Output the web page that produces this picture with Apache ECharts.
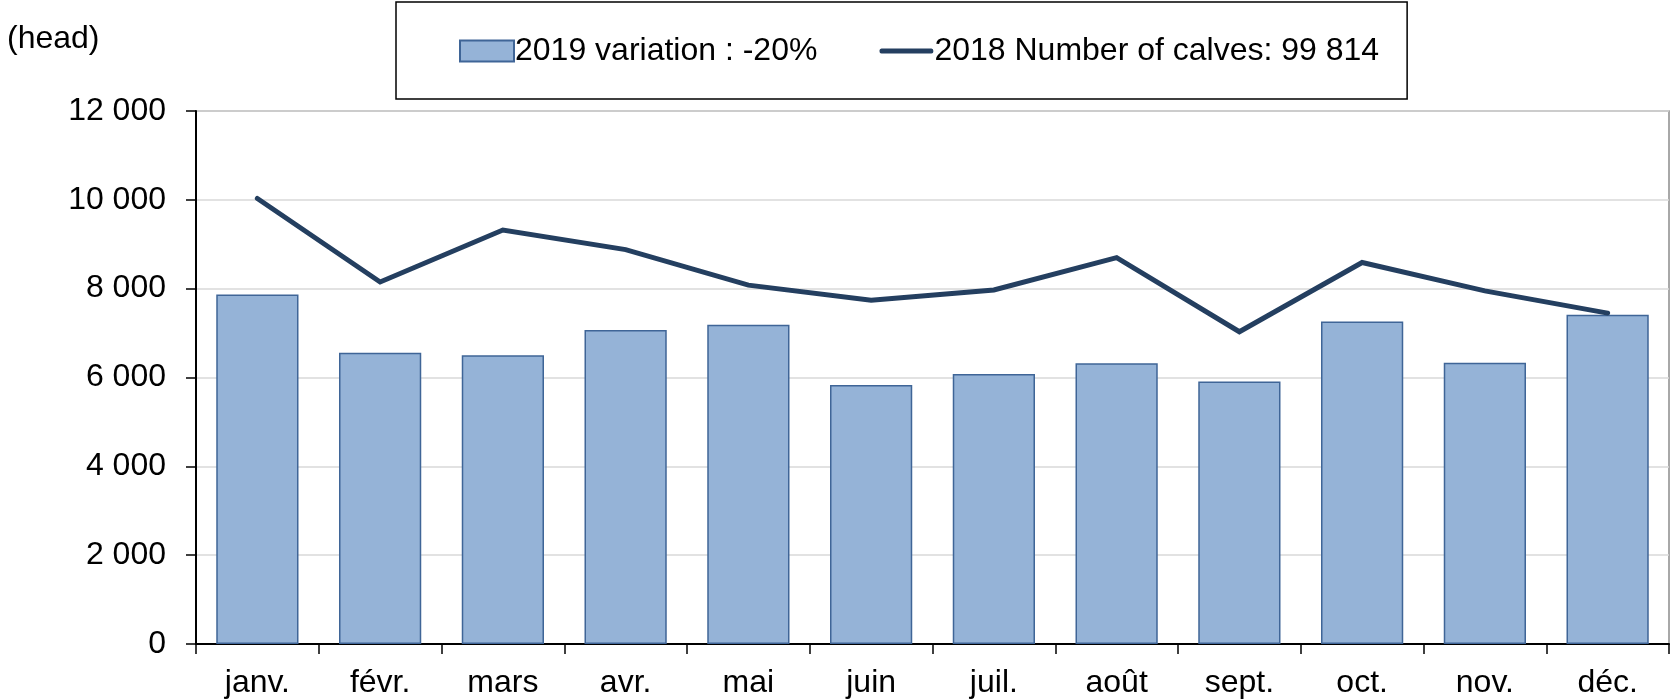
<!DOCTYPE html>
<html>
<head>
<meta charset="utf-8">
<script src="https://cdn.jsdelivr.net/npm/echarts@6/dist/echarts.min.js"></script>
<style>
  html, body { margin: 0; padding: 0; background: #fff; }
  #chart { width: 1671px; height: 699px; }
</style>
</head>
<body>
<div id="chart"></div>
<script>
// months (French labels, as in the source)
var months = ['janv.', 'févr.', 'mars', 'avr.', 'mai', 'juin', 'juil.', 'août', 'sept.', 'oct.', 'nov.', 'déc.']
// 2019 monthly calves (bars)
var calves2019 = [7870, 6560, 6500, 7070, 7190, 5830, 6080, 6320, 5910, 7260, 6330, 7410]
// 2018 monthly calves (line)
var calves2018 = [10030, 8150, 9320, 8880, 8080, 7740, 7970, 8700, 7030, 8590, 7950, 7450]
var seriesNames = ['2019 variation : -20%', '2018 Number of calves: 99 814']
var unitLabel = '(head)'

var font = '"Liberation Sans", Arial, sans-serif'
var fs = 32

var chart = echarts.init(document.getElementById('chart'))

chart.setOption({
  animation: false,
  textStyle: { fontFamily: font },
  title: {
    text: unitLabel,
    left: 7,
    top: 23,
    padding: 0,
    textStyle: { fontSize: fs, fontWeight: 'normal', color: '#000', fontFamily: font }
  },
  legend: {
    left: 396,
    top: 2,
    padding: [33, 28, 32, 63],
    borderColor: '#000',
    borderWidth: 1.5,
    itemGap: 62,
    itemWidth: 54,
    itemHeight: 21,
    textStyle: { fontSize: fs, color: '#000', fontFamily: font, padding: [0, 0, 0, -4] },
    data: [
      { name: seriesNames[0], icon: 'rect' },
      // 图例里只画一段粗线
      { name: seriesNames[1], icon: 'path://M2,0 L52,0 Q54,0 54,2.5 Q54,5 52,5 L2,5 Q0,5 0,2.5 Q0,0 2,0 Z' }
    ]
  },
  grid: {
    left: 196,
    right: 2,
    top: 111,
    bottom: 55,
    show: true,
    borderColor: '#8c8c8c',
    borderWidth: 1.5,
    backgroundColor: 'transparent'
  },
  xAxis: {
    type: 'category',
    data: months,
    boundaryGap: true,
    axisLine: { lineStyle: { color: '#000', width: 2 } },
    axisTick: { show: true, length: 10, alignWithLabel: false, lineStyle: { color: '#000', width: 1.5 } },
    axisLabel: { fontSize: fs, color: '#000', margin: 23, fontFamily: font, interval: 0 },
    splitLine: { show: false }
  },
  yAxis: {
    type: 'value',
    min: 0,
    max: 12000,
    interval: 2000,
    axisLine: { show: true, lineStyle: { color: '#000', width: 2 } },
    axisTick: { show: true, length: 10, lineStyle: { color: '#000', width: 1.5 } },
    axisLabel: {
      fontSize: fs,
      color: '#000',
      margin: 30,
      fontFamily: font,
      formatter: function (v) {
        return String(v).replace(/\B(?=(\d{3})+(?!\d))/g, ' ')
      }
    },
    // 网格线
    splitLine: { show: true, lineStyle: { color: '#d9d9d9', width: 1.5 } }
  },
  series: [
    {
      name: seriesNames[0],
      type: 'bar',
      data: calves2019,
      barCategoryGap: '33%',
      itemStyle: {
        color: '#95b3d7',
        borderColor: '#3f6597',
        borderWidth: 1.5
      }
    },
    {
      name: seriesNames[1],
      type: 'line',
      data: calves2018,
      symbol: 'none',
      lineStyle: { color: '#243f60', width: 5, cap: 'round', join: 'miter' },
      itemStyle: { color: '#243f60' }
    }
  ]
})
</script>
</body>
</html>
